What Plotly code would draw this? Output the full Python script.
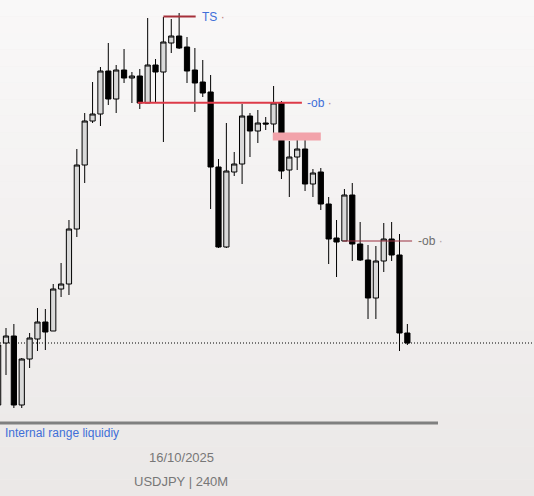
import plotly.graph_objects as go

# ---------------- data (USDJPY, 240M) ----------------
opens = [149.15, 149.77, 149.84, 149.15, 149.61, 149.81, 149.98, 149.89, 150.31, 150.36,
         150.91, 151.55, 151.99, 152.06, 152.49, 152.21, 152.50, 152.42, 152.44, 152.17,
         152.55, 152.48, 152.77, 152.84, 152.73, 152.50, 152.38, 152.28, 151.53, 150.73,
         151.48, 151.56, 152.04, 151.89, 151.97, 151.96, 152.17, 151.50, 151.63, 151.71,
         151.36, 151.48, 151.16, 150.82, 150.79, 151.25, 150.76, 150.60, 150.22, 150.59,
         150.81, 150.65, 149.87]
highs = [149.77, 149.92, 149.96, 149.62, 149.87, 150.12, 150.11, 150.36, 150.57, 151.00,
         151.71, 152.07, 152.38, 152.53, 152.77, 152.55, 152.71, 152.48, 152.51, 153.02,
         152.61, 153.03, 153.01, 153.07, 152.83, 152.72, 152.60, 152.45, 151.61, 151.97,
         151.68, 152.16, 152.07, 152.10, 152.03, 152.34, 152.19, 151.79, 151.83, 151.83,
         151.51, 151.52, 151.23, 151.00, 151.31, 151.37, 150.98, 150.75, 150.74, 150.97,
         150.98, 150.86, 149.96]
lows = [149.10, 149.45, 149.12, 149.12, 149.52, 149.69, 149.70, 149.89, 150.23, 150.25,
        150.83, 151.37, 151.97, 151.94, 152.15, 152.07, 152.37, 152.17, 152.11, 152.17,
        152.17, 151.78, 152.67, 152.71, 152.37, 152.08, 152.23, 151.11, 150.72, 150.72,
        151.44, 151.36, 151.63, 151.77, 151.90, 151.87, 151.41, 151.23, 151.50, 151.29,
        151.23, 151.10, 150.56, 150.43, 150.79, 150.59, 150.59, 150.01, 150.01, 150.48,
        150.59, 149.69, 149.75]
closes = [149.75, 149.84, 149.15, 149.61, 149.82, 149.98, 149.88, 150.31, 150.36, 150.91,
          151.55, 151.99, 152.06, 152.49, 152.21, 152.50, 152.42, 152.44, 152.17, 152.55,
          152.48, 152.78, 152.84, 152.72, 152.49, 152.37, 152.27, 151.53, 150.73, 151.49,
          151.56, 152.04, 151.89, 151.97, 151.96, 152.17, 151.49, 151.63, 151.71, 151.36,
          151.47, 151.16, 150.81, 150.78, 151.25, 150.76, 150.60, 150.22, 150.59, 150.81,
          150.65, 149.87, 149.77]
bars = list(range(len(opens)))

# levels: (label, price, start bar, end bar)
ts_level = ("TS", 153.035, 21.0, 25.1)
ob1_level = ("-ob", 152.173, 17.75, 38.6)
ob2_level = ("-ob", 150.79, 43.8, 52.6)
ob_zone = (151.875, 151.795, 34.9, 41.0)   # top, bottom, start bar, end bar
last_price = closes[-1]

title_date = "16/10/2025"
title_symbol = "USDJPY | 240M"
note_text = "Internal range liquidiy"

# ---------------- figure ----------------
W, H = 534, 496
y_top = 153.20
y_bot = y_top - H * 0.01
x_left = 1 - 6 / 7.87
x_right = 1 + (W - 6) / 7.87

fig = go.Figure()

# background gradient
shapes = []
top_c = (249, 248, 248)
bot_c = (235, 232, 231)
n = 30
for k in range(n):
    t = k / (n - 1)
    c = tuple(round(top_c[j] + (bot_c[j] - top_c[j]) * t) for j in range(3))
    shapes.append(dict(type="rect", xref="paper", yref="paper",
                       x0=0, x1=1, y0=1 - (k + 1) / n, y1=1 - k / n,
                       fillcolor="rgb(%d,%d,%d)" % c, line=dict(width=0), layer="below"))

fig.add_trace(go.Candlestick(
    x=bars, open=opens, high=highs, low=lows, close=closes,
    increasing=dict(fillcolor="#d9d9d9", line=dict(color="#000000", width=1)),
    decreasing=dict(fillcolor="#000000", line=dict(color="#000000", width=1)),
    whiskerwidth=0, showlegend=False, hoverinfo="skip",
))

# current price dotted line
shapes.append(dict(type="line", xref="paper", yref="y", x0=0, x1=1,
                   y0=last_price, y1=last_price,
                   line=dict(color="#000000", width=1, dash="1px,2px"), layer="below"))

# order block zone
shapes.append(dict(type="rect", xref="x", yref="y", x0=ob_zone[2], x1=ob_zone[3],
                   y0=ob_zone[1], y1=ob_zone[0], fillcolor="#f2a2aa",
                   line=dict(width=0), layer="above"))
# TS line
shapes.append(dict(type="line", xref="x", yref="y", x0=ts_level[2], x1=ts_level[3],
                   y0=ts_level[1], y1=ts_level[1], line=dict(color="#a6303a", width=2)))
# ob1 line
shapes.append(dict(type="line", xref="x", yref="y", x0=ob1_level[2], x1=ob1_level[3],
                   y0=ob1_level[1], y1=ob1_level[1], line=dict(color="#dd3a48", width=2)))
# ob2 line
shapes.append(dict(type="line", xref="x", yref="y", x0=ob2_level[2], x1=ob2_level[3],
                   y0=ob2_level[1], y1=ob2_level[1], line=dict(color="#9a3040", width=1)))
# bottom divider
shapes.append(dict(type="line", xref="paper", yref="paper", x0=0, x1=438 / W,
                   y0=1 - 423 / H, y1=1 - 423 / H, line=dict(color="#808080", width=3)))

blue = "#3f6fd8"
font = "Liberation Sans, Arial, sans-serif"
annotations = [
    dict(x=ts_level[3] + 0.5, y=ts_level[1], xref="x", yref="y", xanchor="left", yanchor="middle",
         text=ts_level[0] + " <span style='color:#c08080'>·</span>", showarrow=False,
         font=dict(family=font, size=12, color=blue)),
    dict(x=ob1_level[3] + 0.45, y=ob1_level[1], xref="x", yref="y", xanchor="left", yanchor="middle",
         text=ob1_level[0] + " <span style='color:#c08080'>·</span>", showarrow=False,
         font=dict(family=font, size=12, color=blue)),
    dict(x=ob2_level[3] + 0.55, y=ob2_level[1], xref="x", yref="y", xanchor="left", yanchor="middle",
         text=ob2_level[0] + " <span style='color:#b0a0a0'>·</span>", showarrow=False,
         font=dict(family=font, size=12, color="#6e6e6e")),
    dict(x=3 / W, y=1 - 433 / H, xref="paper", yref="paper", xanchor="left", yanchor="middle",
         text=note_text, showarrow=False, font=dict(family=font, size=12, color=blue)),
    dict(x=181 / W, y=1 - 457 / H, xref="paper", yref="paper", xanchor="center", yanchor="middle",
         text=title_date, showarrow=False, font=dict(family=font, size=13, color="#777777")),
    dict(x=181 / W, y=1 - 481 / H, xref="paper", yref="paper", xanchor="center", yanchor="middle",
         text=title_symbol, showarrow=False, font=dict(family=font, size=13, color="#777777")),
]

fig.update_layout(
    width=W, height=H,
    margin=dict(l=0, r=0, t=0, b=0),
    paper_bgcolor="#f0eeed", plot_bgcolor="rgba(0,0,0,0)",
    shapes=shapes, annotations=annotations,
    boxgap=0.2, boxgroupgap=0.17,
    xaxis=dict(range=[x_left, x_right], visible=False, rangeslider=dict(visible=False),
               fixedrange=True),
    yaxis=dict(range=[y_bot, y_top], visible=False, fixedrange=True),
    showlegend=False,
)

fig.write_html(
    "out.html",
    config={"displayModeBar": False},
    post_script="document.body.style.margin='0';document.body.style.overflow='hidden';"
                "document.documentElement.style.overflow='hidden';",
)
